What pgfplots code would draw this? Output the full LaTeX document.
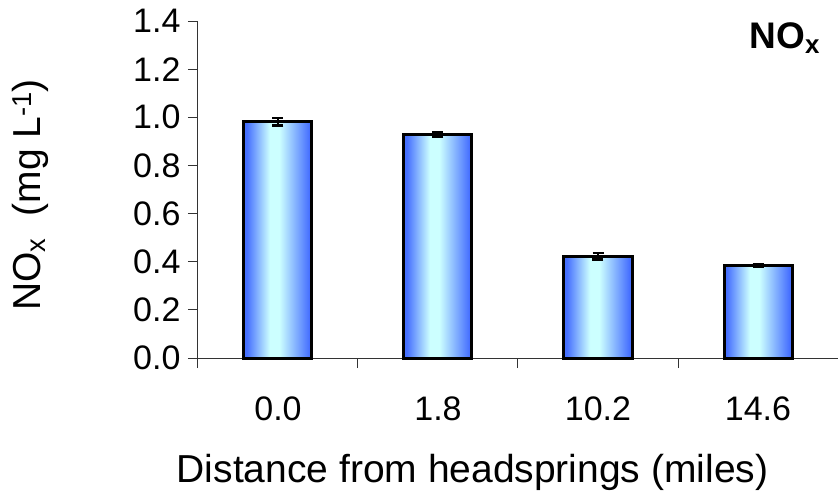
\documentclass[border=0pt]{standalone}
\usepackage{pgfplots}
\pgfplotsset{compat=1.18}
\usepackage{fontspec}
\setmainfont{Liberation Sans}
\definecolor{barEdge}{RGB}{70,112,255}
\definecolor{barMid}{RGB}{204,255,255}
\pgfdeclarehorizontalshading{barshade}{100bp}{color(0bp)=(barEdge); color(27bp)=(barEdge); color(44bp)=(barMid); color(51bp)=(barMid); color(73bp)=(barEdge); color(100bp)=(barEdge)}
\begin{document}
\begin{tikzpicture}
\path[use as bounding box] (-198pt,-141pt) rectangle (640pt,358pt);
\begin{axis}[
  at={(0,0)}, anchor=south west,
  scale only axis, width=640pt, height=337pt,
  xmin=-0.5, xmax=3.5, ymin=0, ymax=1.4,
  clip=false,
  axis x line=bottom, axis y line=left,
  axis line style={-, line width=1pt, black!80},
  xtick={0,1,2,3}, xticklabels={0.0,1.8,10.2,14.6},
  major x tick style={draw=none},
  minor xtick={-0.5,0.5,1.5,2.5,3.5},
  minor x tick style={line width=1pt, black!80},
  minor tick length=10pt,
  ytick={0,0.2,0.4,0.6,0.8,1.0,1.2,1.4},
  y tick style={line width=1pt, black!80},
  major tick length=10pt,
  tick align=outside,
  /pgf/number format/assume math mode=true,
  yticklabel style={/pgf/number format/fixed, /pgf/number format/fixed zerofill, /pgf/number format/precision=1},
  ticklabel style={font=\fontsize{34}{40}\selectfont},
  xticklabel style={yshift=-25pt},
  yticklabel style={xshift=-4pt},
  xlabel={Distance from headsprings (miles)},
  xlabel style={font=\fontsize{39}{44}\selectfont, at={(axis description cs:0.429,0)}, anchor=center, yshift=-114pt},
  ylabel={NO\textsubscript{x}\ \ (mg L\textsuperscript{-1})},
  ylabel style={font=\fontsize{39}{44}\selectfont, at={(axis description cs:-0.2625,0.484)}, anchor=center},
  barstyle/.style={ybar, bar width=68pt, bar shift=0pt, draw=black, line width=3pt,
    shading=barshade, shading angle=0,
    error bars/.cd, y dir=both, y explicit,
    error bar style={line width=2.6pt, black},
    error mark options={line width=2.6pt, mark size=5.5pt, black, rotate=90}},
]
\addplot[barstyle] coordinates {(0,0.982) +- (0,0.015)};
\addplot[barstyle] coordinates {(1,0.929) +- (0,0.008)};
\addplot[barstyle] coordinates {(2,0.422) +- (0,0.014)};
\addplot[barstyle] coordinates {(3,0.383) +- (0,0.005)};
\node[font=\bfseries\fontsize{37}{40}\selectfont] at (axis description cs:0.917,0.95) {NO\textsubscript{x}};
\end{axis}
\end{tikzpicture}
\end{document}
